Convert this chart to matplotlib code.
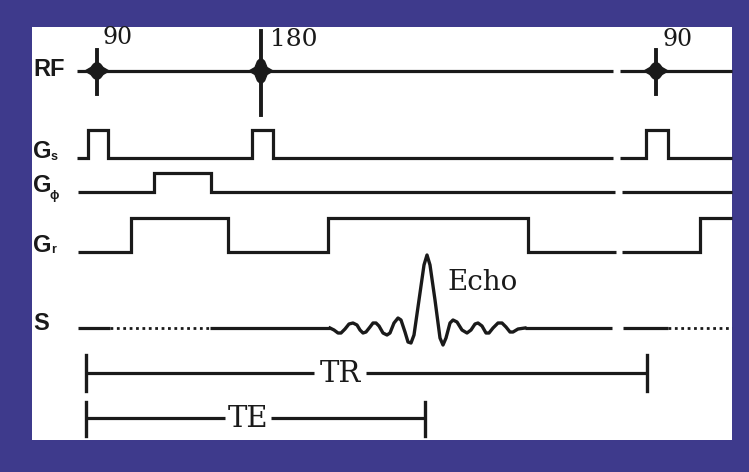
import matplotlib
matplotlib.use("Agg")
import matplotlib.pyplot as plt
from matplotlib.patches import Rectangle, Polygon

# ---------------- data (diagram coordinates, pixel-like units) ----------------
BLUE = "#3e3a8c"
INK = "#1a1a1a"

# RF pulses
rf_x = [97, 261, 656]
rf_top = [50, 31, 50]
rf_bot = [94, 115, 94]
rf_blob = [9, 13, 9]
rf_labels = ["90", "180", "90"]
rf_label_x = [102, 270, 662]
rf_label_y = [38, 39, 40]
rf_label_size = [17, 18, 17]
rf_base_y = 71
rf_segments = [(77, 613), (620, 732)]

# Slice-select gradient Gs
gs_x = [77, 88, 88, 108, 108, 252, 252, 273, 273, 613]
gs_y = [158, 158, 130, 130, 158, 158, 130, 130, 158, 158]
gs_x2 = [620, 646, 646, 668, 668, 732]
gs_y2 = [158, 158, 130, 130, 158, 158]

# Phase gradient Gphi
gp_x = [78, 154, 154, 211, 211, 615]
gp_y = [192, 192, 173, 173, 192, 192]
gp_x2 = [622, 732]
gp_y2 = [192, 192]

# Readout gradient Gr
gr_x = [78, 131, 131, 228, 228, 328, 328, 528, 528, 616]
gr_y = [252, 252, 218, 218, 252, 252, 218, 218, 252, 252]
gr_x2 = [622, 700, 700, 732]
gr_y2 = [252, 252, 218, 218]

# Signal S
s_base = 328
s_solid = [(78, 110), (210, 330), (525, 612), (623, 668)]
s_dotted = [(110, 210), (668, 732)]
echo_x = [330, 334, 338, 341, 345, 349, 353, 357, 360, 363, 366, 370, 373, 376,
          379, 383, 387, 390, 394, 398, 401, 405, 408, 411, 414, 419, 424, 427,
          430, 435, 440, 443, 446, 450, 453, 457, 462, 467, 471, 475, 478, 482,
          486, 489, 493, 498, 502, 506, 510, 513, 518, 525]
echo_y = [328, 330, 333, 333, 329, 324, 323, 325, 330, 333, 332, 327, 323, 323,
          326, 333, 335, 333, 323, 318, 320, 332, 342, 343, 335, 300, 265, 255,
          265, 300, 338, 345, 338, 323, 320, 322, 330, 333, 330, 324, 323, 326,
          333, 333, 328, 323, 323, 327, 332, 332, 329, 328]

# Timing bars
tr = dict(x0=86, x1=647, y=373, label="TR", lx0=314, lx1=366, tick=(355, 391))
te = dict(x0=86, x1=425, y=418, label="TE", lx0=225, lx1=271, tick=(402, 436))

# ---------------- drawing ----------------
fig = plt.figure(figsize=(7.49, 4.72), dpi=100, facecolor=BLUE)
ax = fig.add_axes([0, 0, 1, 1])
ax.set_xlim(0, 749)
ax.set_ylim(472, 0)
ax.axis("off")
ax.add_patch(Rectangle((32, 27), 700, 413, facecolor="white", edgecolor="none", zorder=0))

LW = 2.3
kw = dict(color=INK, lw=LW, solid_capstyle="butt", solid_joinstyle="miter", zorder=2)

# RF line and pulses
for a, b in rf_segments:
    ax.plot([a, b], [rf_base_y, rf_base_y], **kw)
for cx, t, bt, bl, lab, lx, ly, fs in zip(rf_x, rf_top, rf_bot, rf_blob, rf_labels,
                                          rf_label_x, rf_label_y, rf_label_size):
    ax.plot([cx, cx], [t, bt], color=INK, lw=2.8, zorder=3)
    cy = rf_base_y
    half = [(cx + 12, cy), (cx + 6, cy - 3.5), (cx + 3.5, cy - bl * 0.75), (cx, cy - bl),
            (cx - 3.5, cy - bl * 0.75), (cx - 6, cy - 3.5), (cx - 12, cy)]
    lower = [(x, 2 * cy - y) for (x, y) in half[1:-1]][::-1]
    ax.add_patch(Polygon(half + lower, closed=True, facecolor=INK, edgecolor=INK,
                         lw=1, joinstyle="round", zorder=3))
    ax.text(lx, ly, lab, family="DejaVu Serif", fontsize=fs, color=INK,
            ha="left", va="center", zorder=4)

# Gradients
ax.plot(gs_x, gs_y, **kw)
ax.plot(gs_x2, gs_y2, **kw)
ax.plot(gp_x, gp_y, **kw)
ax.plot(gp_x2, gp_y2, **kw)
ax.plot(gr_x, gr_y, **kw)
ax.plot(gr_x2, gr_y2, **kw)

# Signal
for a, b in s_solid:
    ax.plot([a, b], [s_base, s_base], **kw)
for a, b in s_dotted:
    ax.plot([a, b], [s_base, s_base], color=INK, lw=2.0, linestyle=(0, (1.0, 1.3)), zorder=2)
ax.plot(echo_x, echo_y, color=INK, lw=2.4, solid_joinstyle="round", zorder=2)
ax.text(447, 282, "Echo", family="DejaVu Serif", fontsize=20, color=INK,
        ha="left", va="center", zorder=4)

# Row labels
lab_kw = dict(family="Liberation Sans", fontweight="bold", color=INK, va="center", ha="left", zorder=4)
ax.text(33, 70, "RF", fontsize=17, **lab_kw)
ax.text(33, 151, "G", fontsize=17, **lab_kw)
ax.text(51, 157, "s", fontsize=9, **lab_kw)
ax.text(33, 185, "G", fontsize=17, **lab_kw)
ax.text(50, 196, "\u03d5", fontsize=9, **lab_kw)
ax.text(33, 245, "G", fontsize=17, **lab_kw)
ax.text(51, 250, "r", fontsize=9, **lab_kw)
ax.text(33, 323, "S", fontsize=17, **lab_kw)

# Timing bars
for d in (tr, te):
    ax.plot([d["x0"], d["lx0"]], [d["y"], d["y"]], **kw)
    ax.plot([d["lx1"], d["x1"]], [d["y"], d["y"]], **kw)
    for xx in (d["x0"], d["x1"]):
        ax.plot([xx, xx], list(d["tick"]), color=INK, lw=2.4, zorder=2)
    ax.text((d["lx0"] + d["lx1"]) / 2, d["y"] + 1, d["label"], family="DejaVu Serif",
            fontsize=21, color=INK, ha="center", va="center", zorder=4)

fig.savefig("out.png", dpi=100, facecolor=BLUE)
